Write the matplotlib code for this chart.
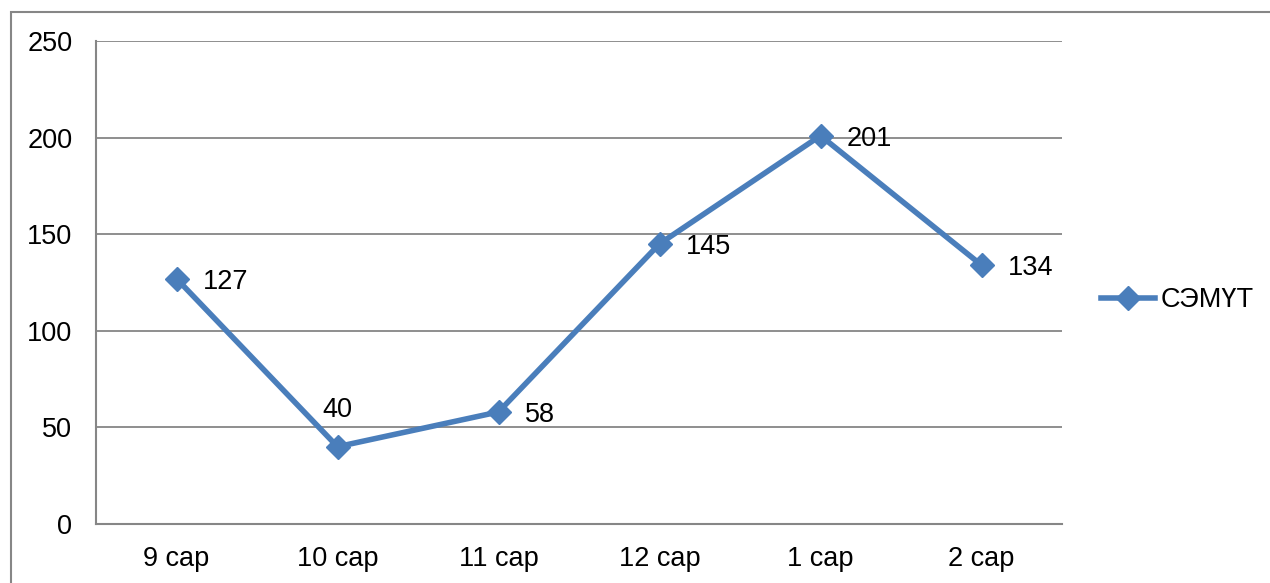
import matplotlib.pyplot as plt
from matplotlib.patches import Rectangle

months = ['9 сар', '10 сар', '11 сар', '12 сар', '1 сар', '2 сар']
counts = [127, 40, 58, 145, 201, 134]
series_name = 'СЭМҮТ'

BLUE = '#4A7EBB'
GREY = '#868686'

plt.rcParams['font.family'] = ['Liberation Sans', 'DejaVu Sans']
plt.rcParams['font.size'] = 19.5

W, H = 1270, 583
fig = plt.figure(figsize=(W / 100, H / 100), dpi=100)
ax = fig.add_axes([96 / W, 1 - 524 / H, (1062 - 96) / W, (524 - 41) / H])

# outer chart frame (right and bottom edges fall outside the image)
fig.patches.append(Rectangle((11 / W, -0.1), 1.2, 1 - 12 / H + 0.1,
                             transform=fig.transFigure, fill=False,
                             edgecolor=GREY, linewidth=1.5))

x = list(range(len(months)))
ax.plot(x, counts, color=BLUE, linewidth=4, marker='D', markersize=12,
        label=series_name, zorder=3)

for i, v in enumerate(counts):
    if i == 1:
        ax.annotate(str(v), (i, v), xytext=(0, 17), textcoords='offset points',
                    ha='center', va='bottom')
    else:
        ax.annotate(str(v), (i, v), xytext=(19, 0), textcoords='offset points',
                    ha='left', va='center_baseline')

ax.set_xlim(-0.5, len(months) - 0.5)
ax.set_ylim(0, 250)
ax.set_yticks(range(0, 251, 50))
ax.set_xticks(x)
ax.set_xticklabels(months)
ax.tick_params(length=0)
ax.tick_params(axis='y', pad=17)
ax.tick_params(axis='x', pad=16)

ax.grid(True, axis='y', color=GREY, linewidth=1.3)
ax.set_axisbelow(True)
for s in ['top', 'right']:
    ax.spines[s].set_visible(False)
for s in ['left', 'bottom']:
    ax.spines[s].set_color(GREY)
    ax.spines[s].set_linewidth(1.5)

fig.legend(loc='center left', bbox_to_anchor=(1101 / W, 1 - 300 / H),
           frameon=False, handlelength=2.0, handletextpad=0.2,
           borderpad=0, borderaxespad=0)

fig.savefig('out.png', dpi=100)
